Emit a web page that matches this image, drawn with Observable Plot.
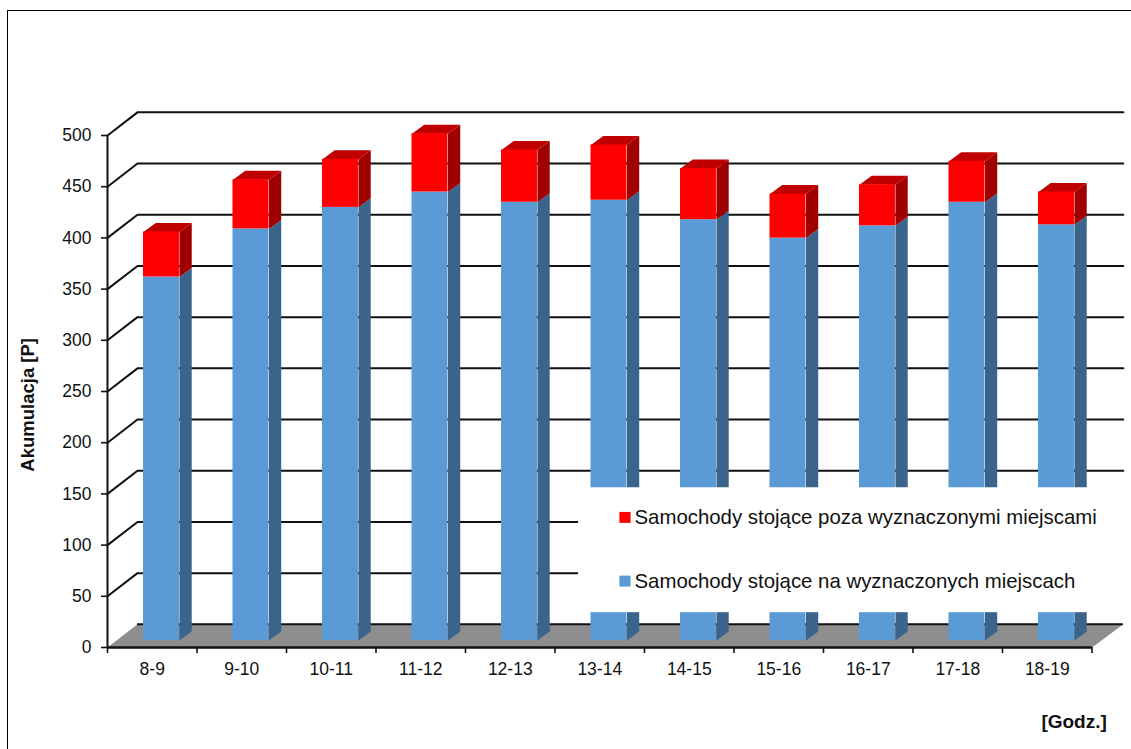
<!DOCTYPE html>
<html lang="pl">
<head>
<meta charset="utf-8">
<script src="https://cdn.jsdelivr.net/npm/d3@7"></script>
<script src="https://cdn.jsdelivr.net/npm/@observablehq/plot@0.6"></script>
<style>
  html, body { margin: 0; padding: 0; background: #fff; }
  body { width: 1131px; height: 749px; overflow: hidden; position: relative; }
  #sheet { position: absolute; left: 7px; top: 10px; right: -4px; bottom: -4px; border: 1px solid #000; }
  #chart { position: absolute; left: 0; top: 0; }
  #chart svg { background: transparent; font-family: "Liberation Sans", Arial, sans-serif; }
</style>
</head>
<body>
<div id="sheet"></div>
<div id="chart"></div>
<script>
const hours = ["8-9", "9-10", "10-11", "11-12", "12-13", "13-14", "14-15", "15-16", "16-17", "17-18", "18-19"];
const inBays = [355, 402, 423, 438, 428, 430, 411, 393, 405, 428, 406];
const outsideBays = [44, 48, 47, 57, 51, 54, 50, 43, 40, 40, 32];
const yTicks = [0, 50, 100, 150, 200, 250, 300, 350, 400, 450, 500];
const legendLabels = ["Samochody stojące poza wyznaczonymi miejscami", "Samochody stojące na wyznaczonych miejscach"];

// Oblique projection of the pseudo-3D box, in scale units
const wallDx = 0.335, wallDy = 22.6;
const barLeft = 0.402, barWidth = 0.402, barDx = 0.137, barDy = 8.8, barBase = 6.8;
const rightEnd = 11.35;

const colors = {
  blue: "#5b9bd5", blueSide: "#3a648c",
  red: "#ff0000", redSide: "#a00000", redTop: "#c00000",
  floor: "#8e8e8e"
};

const bars = hours.map((hour, i) => ({
  hour,
  x1: i + barLeft,
  x2: i + barLeft + barWidth,
  y0: barBase,
  y1: barBase + inBays[i],
  y2: barBase + inBays[i] + outsideBays[i]
}));

// Closed faces are drawn as filled lines, one z per face
const sideFace = (b, lo, hi) => [
  {z: b.hour, x: b.x2, y: lo},
  {z: b.hour, x: b.x2 + barDx, y: lo + barDy},
  {z: b.hour, x: b.x2 + barDx, y: hi + barDy},
  {z: b.hour, x: b.x2, y: hi}
];
const topFace = (b) => [
  {z: b.hour, x: b.x1, y: b.y2},
  {z: b.hour, x: b.x1 + barDx, y: b.y2 + barDy},
  {z: b.hour, x: b.x2 + barDx, y: b.y2 + barDy},
  {z: b.hour, x: b.x2, y: b.y2}
];
const blueSides = bars.flatMap((b) => sideFace(b, b.y0, b.y1));
const redSides = bars.flatMap((b) => sideFace(b, b.y1, b.y2));
const redTops = bars.flatMap(topFace);

const floor = [
  {x: 0, y: 0},
  {x: wallDx, y: wallDy},
  {x: rightEnd, y: wallDy},
  {x: 11, y: 0}
];
const gridLines = yTicks.filter((v) => v > 0).flatMap((v) => [
  {z: v, x: 0, y: v},
  {z: v, x: wallDx, y: v + wallDy},
  {z: v, x: rightEnd, y: v + wallDy}
]);

const face = (data, fill) => Plot.line(data, {x: "x", y: "y", z: "z", fill, stroke: "none"});

const chart = Plot.plot({
  width: 1131,
  height: 749,
  marginLeft: 107,
  marginRight: 39.5,
  marginTop: 135,
  marginBottom: 102,
  style: {background: "transparent", overflow: "hidden"},
  x: {domain: [0, 11], axis: null},
  y: {domain: [0, 500], axis: null},
  marks: [
    // Floor and back wall
    Plot.line(floor, {x: "x", y: "y", fill: colors.floor, stroke: "none"}),
    Plot.line(gridLines, {x: "x", y: "y", z: "z", stroke: "#111", strokeWidth: 2, strokeLinejoin: "miter"}),
    Plot.ruleY([wallDy], {x1: wallDx, x2: rightEnd, stroke: "#111", strokeWidth: 2}),

    // Columns
    face(blueSides, colors.blueSide),
    face(redSides, colors.redSide),
    face(redTops, colors.redTop),
    Plot.rect(bars, {x1: "x1", x2: "x2", y1: "y0", y2: "y1", fill: colors.blue}),
    Plot.rect(bars, {x1: "x1", x2: "x2", y1: "y1", y2: "y2", fill: colors.red}),

    // Legend panel sits over the plot and hides what lies behind it
    Plot.rect([{}], {x1: 5.263, x2: 12, y1: 34, y2: 156, fill: "#fff"}),
    Plot.rect(legendLabels, {
      x1: 5.725, x2: 5.85,
      y1: (d, i) => (i === 0 ? 121.2 : 59),
      y2: (d, i) => (i === 0 ? 131.9 : 69.7),
      fill: (d, i) => (i === 0 ? colors.red : colors.blue)
    }),
    Plot.text(legendLabels, {
      x: 5.888,
      y: (d, i) => (i === 0 ? 126.7 : 64.5),
      text: (d) => d,
      textAnchor: "start",
      fontSize: 20.4,
      fill: "#111"
    }),

    // Axes
    Plot.ruleX([0], {y1: 0, y2: 500, stroke: "#111", strokeWidth: 2}),
    Plot.ruleY([0], {x1: 0, x2: 11, stroke: "#111", strokeWidth: 2.4}),
    Plot.axisY({ticks: yTicks, tickSize: 6, tickPadding: 10, fontSize: 17.5, label: null, stroke: "#111", strokeWidth: 1.6, strokeOpacity: 1, color: "#111"}),
    Plot.axisX({ticks: d3.range(12), tickSize: 6, tickFormat: () => "", label: null, stroke: "#111", strokeWidth: 1.6, strokeOpacity: 1}),
    Plot.axisX({
      ticks: hours.map((d, i) => i + 0.5),
      tickSize: 0,
      tickPadding: 15,
      fontSize: 17.5,
      tickFormat: (d) => hours[d - 0.5],
      label: null,
      color: "#111"
    }),
    Plot.text(["Akumulacja [P]"], {x: -0.883, y: 237, rotate: -90, fontWeight: "bold", fontSize: 18.5, fill: "#111"}),
    Plot.text(["[Godz.]"], {x: 10.8, y: -73, fontWeight: "bold", fontSize: 19, fill: "#111"})
  ]
});
document.getElementById("chart").append(chart);
</script>
</body>
</html>
